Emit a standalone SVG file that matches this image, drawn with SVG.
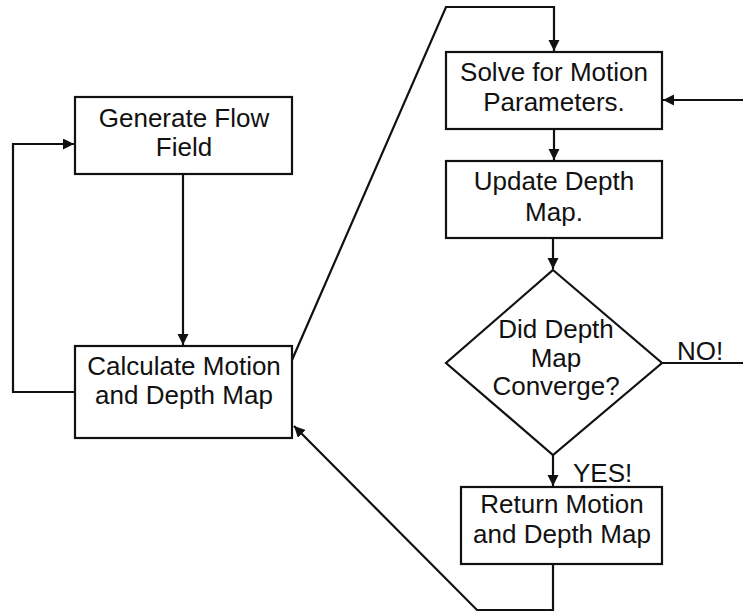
<svg xmlns="http://www.w3.org/2000/svg" width="743" height="613" viewBox="0 0 743 613">
<defs>
<marker id="ah" markerUnits="userSpaceOnUse" markerWidth="12" markerHeight="12" refX="11" refY="5.5" orient="auto">
<path d="M0,0 L11,5.5 L0,11 Z" fill="#111"/>
</marker>
<style>
.box{fill:#fff;stroke:#111;stroke-width:2.2}
.c{fill:none;stroke:#111;stroke-width:2.2}
text{font-family:"Liberation Sans",Arial,sans-serif;font-size:26px;fill:#111;text-anchor:middle}
.l{text-anchor:start}
</style>
</defs>
<rect width="743" height="613" fill="#fff"/>
<g id="connectors">
<path class="c" d="M183,174 L183,345" marker-end="url(#ah)"/>
<path class="c" d="M75,392 L13,392 L13,144 L74,144" marker-end="url(#ah)"/>
<path class="c" d="M292,360 L446,7 L554,7 L554,51" marker-end="url(#ah)"/>
<path class="c" d="M554,129 L554,160" marker-end="url(#ah)"/>
<path class="c" d="M553,238 L553,269" marker-end="url(#ah)"/>
<path class="c" d="M662,363 L746,363 L746,100 L663,100" marker-end="url(#ah)"/>
<path class="c" d="M553,455 L553,486" marker-end="url(#ah)"/>
<path class="c" d="M553,564 L553,610 L477,610 L294,426" marker-end="url(#ah)"/>
<text class="l" x="677" y="360">NO!</text>
<text class="l" x="573" y="482">YES!</text>
</g>
<g id="generate">
<rect class="box" x="75" y="97" width="217" height="77"/>
<text x="184" y="127">Generate Flow</text>
<text x="184" y="156">Field</text>
</g>
<g id="calculate">
<rect class="box" x="75" y="346" width="217" height="92"/>
<text x="184" y="375">Calculate Motion</text>
<text x="184" y="404">and Depth Map</text>
</g>
<g id="solve">
<rect class="box" x="446" y="52" width="216" height="77"/>
<text x="554" y="81">Solve for Motion</text>
<text x="554" y="111">Parameters.</text>
</g>
<g id="update">
<rect class="box" x="446" y="161" width="216" height="77"/>
<text x="554" y="190">Update Depth</text>
<text x="554" y="221">Map.</text>
</g>
<g id="converge">
<polygon class="box" points="553,270 662,363 553,455 446,363"/>
<text x="556" y="338">Did Depth</text>
<text x="556" y="367">Map</text>
<text x="556" y="395">Converge?</text>
</g>
<g id="return">
<rect class="box" x="461" y="487" width="201" height="77"/>
<text x="562" y="513">Return Motion</text>
<text x="562" y="543">and Depth Map</text>
</g>
</svg>
